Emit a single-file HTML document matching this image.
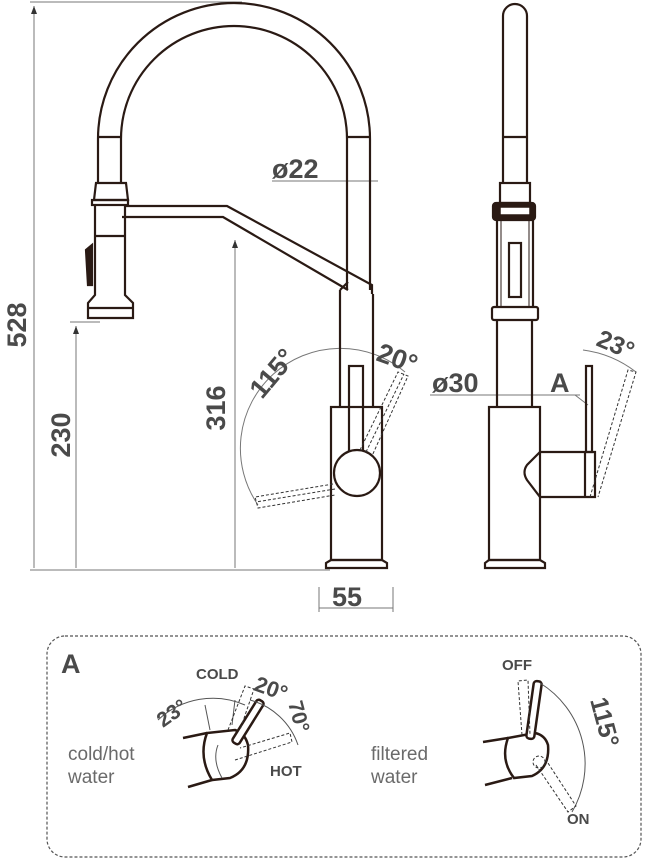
<!DOCTYPE html>
<html><head><meta charset="utf-8"><style>
html,body{margin:0;padding:0;background:#fff}
svg{display:block}
.d{font-family:"Liberation Sans",sans-serif;font-weight:bold;fill:#4a4a4a}
.l{font-family:"Liberation Sans",sans-serif;fill:#6a6a6a}
</style></head><body>
<svg width="654" height="861" viewBox="0 0 654 861" xmlns="http://www.w3.org/2000/svg">
<defs><marker id="a" markerWidth="8" markerHeight="6" refX="8" refY="3" orient="auto"><path d="M0,0 L8,3 L0,6z" fill="#333"/></marker></defs>
<g fill="none" stroke="#777" stroke-width="1">
<line x1="30" y1="2" x2="242" y2="2"/>
<line x1="30" y1="570" x2="330" y2="570"/>
<line x1="34" y1="568" x2="34" y2="6" marker-end="url(#a)"/>
<line x1="76" y1="568" x2="76" y2="326" marker-end="url(#a)"/>
<line x1="70" y1="322" x2="100" y2="322"/>
<line x1="235" y1="568" x2="235" y2="240" marker-end="url(#a)"/>
<line x1="272" y1="181" x2="345" y2="181" /><line x1="345" y1="181" x2="378" y2="181"/>
<line x1="319" y1="587" x2="319" y2="612"/><line x1="393" y1="587" x2="393" y2="612"/>
<line x1="319" y1="608" x2="393" y2="608"/>
<line x1="430" y1="395" x2="545" y2="395"/>
<line x1="545" y1="395" x2="580" y2="395"/><line x1="575" y1="395" x2="588" y2="405"/>
<path d="M258,505 A100,100 0 0 1 405,372"/>
<path d="M583,350 A110,110 0 0 1 636,372"/>
</g>
<g fill="none" stroke="#2a1a14" stroke-width="2.2">
<path d="M98,183 L98,139 A136,136 0 0 1 370,139 L370,290"/>
<path d="M121,183 L121,139 A113,113 0 0 1 347,139 L347,290"/>
<line x1="98" y1="137" x2="121" y2="137"/><line x1="347" y1="137" x2="370" y2="137"/>
<path d="M96,183 L126,183 L128,200 L94,200 Z"/>
<rect x="92" y="200" width="36" height="5"/>
<path d="M95,205 L95,295 L88,303 L88,318 L133,318 L133,303 L125,295 L125,205"/>
<line x1="95" y1="236" x2="125" y2="236"/>
<line x1="89" y1="308" x2="132" y2="308"/>
<path d="M86,250 L92,245 L92,285 L88,285 Z" fill="#2a1a14"/>
<path d="M125,206 L227,206 L372,285 L372,294"/>
<path d="M122,217 L223,217 L348,290"/>
<path d="M340,290 L340,407 M373,294 L373,407"/>
<path d="M340,290 L348,282"/>
<rect x="331" y="407" width="51" height="153"/>
<path d="M326,568 L326,563 L331,560 L382,560 L387,563 L387,568 Z"/>
<rect x="349" y="366" width="14" height="86"/>
<circle cx="357" cy="473" r="23" fill="#fff"/>
<path d="M503,183 L503,16 A12,12 0 0 1 527,16 L527,183"/>
<line x1="503" y1="137" x2="527" y2="137"/>
<rect x="500" y="183" width="30" height="20"/>
<rect x="493" y="203" width="42" height="17" rx="3" fill="#2a1a14"/>
<rect x="500" y="207" width="30" height="8" fill="#fff" stroke-width="1.5"/>
<path d="M497,220 L497,307 M533,220 L533,307"/>
<line x1="501" y1="220" x2="501" y2="307" stroke-width="1"/><line x1="529" y1="220" x2="529" y2="307" stroke-width="1"/>
<rect x="509" y="243" width="12" height="54"/>
<rect x="492" y="307" width="46" height="13" rx="2"/>
<path d="M497,320 L497,407 M532,320 L532,407"/>
<rect x="489" y="407" width="51" height="153"/>
<path d="M485,568 L485,563 L489,560 L540,560 L545,563 L545,568 Z"/>
<path d="M540,452 L595,452 L595,497 L540,497 L527,480 Q522,472 527,465 Z"/>
<line x1="585" y1="452" x2="585" y2="497"/>
<rect x="586" y="366" width="6" height="86"/>
</g>
<g fill="none" stroke="#333" stroke-width="1" stroke-dasharray="3,2">
<path d="M360,450 L398,372 L408,376 L372,456"/>
<path d="M366,452 L404,374"/>
<path d="M333,484 L255,497 L258,508 L335,495"/>
<path d="M335,489 L256,502"/>
<path d="M590,497 L628,370 L636,372 L598,497"/>
</g>
<text class="d" font-size="27" transform="translate(26,325) rotate(-90)" text-anchor="middle">528</text>
<text class="d" font-size="27" transform="translate(70,435) rotate(-90)" text-anchor="middle">230</text>
<text class="d" font-size="27" transform="translate(225,408) rotate(-90)" text-anchor="middle">316</text>
<text class="d" font-size="27" x="332" y="606">55</text>
<text class="d" font-size="27" x="272" y="178">ø22</text>
<text class="d" font-size="27" x="432" y="392">ø30</text>
<text class="d" font-size="27" x="550" y="392">A</text>
<text class="d" font-size="27" transform="translate(262,400) rotate(-50)">115°</text>
<text class="d" font-size="27" transform="translate(375,360) rotate(20)">20°</text>
<text class="d" font-size="25" transform="translate(595,345) rotate(23)">23°</text>
<rect x="47" y="636" width="594" height="221" rx="18" fill="none" stroke="#555" stroke-width="1.2" stroke-dasharray="3,2"/>
<text class="d" font-size="27" x="61" y="673">A</text>
<text class="l" font-size="19" x="68" y="760">cold/hot</text>
<text class="l" font-size="19" x="68" y="783">water</text>
<text class="l" font-size="19" x="371" y="760">filtered</text>
<text class="l" font-size="19" x="371" y="783">water</text>
<text class="d" font-size="15" x="196" y="679">COLD</text>
<text class="d" font-size="15" x="270" y="776">HOT</text>
<text class="d" font-size="15" x="502" y="670">OFF</text>
<text class="d" font-size="15" x="567" y="824">ON</text>
<text class="d" font-size="22" transform="translate(253,690) rotate(20)">20°</text>
<text class="d" font-size="21" transform="translate(163,728) rotate(-35)">23°</text>
<text class="d" font-size="21" transform="translate(288,703) rotate(75)">70°</text>
<text class="d" font-size="25" transform="translate(590,700) rotate(75)">115°</text>
<g fill="none" stroke="#2a1a14" stroke-width="2.5">
<path d="M183,738 L207,733"/><path d="M188,787 L212,780"/>
<path d="M207,733 Q198,757 212,780 L230,778 Q250,770 248,745 Q245,733 235,730 Z"/>
<rect x="244" y="697" width="8" height="50" rx="3" transform="rotate(32 248 722)" fill="#fff"/>
<path d="M483,742 L508,738"/><path d="M485,785 L512,778"/>
<path d="M508,738 Q500,760 514,778 L532,776 Q550,768 548,745 Q545,735 535,733 Z"/>
<rect x="530" y="681" width="8" height="58" rx="3" transform="rotate(8 534 710)" fill="#fff"/>
</g>
<g fill="none" stroke="#555" stroke-width="1">
<path d="M158,720 A80,80 0 0 1 245,705"/>
<path d="M250,700 A70,70 0 0 1 298,745"/>
<line x1="210" y1="730" x2="205" y2="705"/><line x1="232" y1="725" x2="235" y2="700"/>
<path d="M540,683 A95,95 0 0 1 572,812"/>
<path d="M218,745 Q212,760 222,778" />
</g>
<g fill="none" stroke="#333" stroke-width="1" stroke-dasharray="3,2">
<path d="M228,730 L245,686 L254,689 L240,730"/>
<path d="M235,760 L292,742 L290,733 L240,748"/>
<path d="M522,735 L518,681 L528,680 L530,735"/>
<path d="M536,765 L568,812 L576,806 L546,760"/>
<circle cx="539" cy="762" r="6"/>
</g>
</svg>
</body></html>
